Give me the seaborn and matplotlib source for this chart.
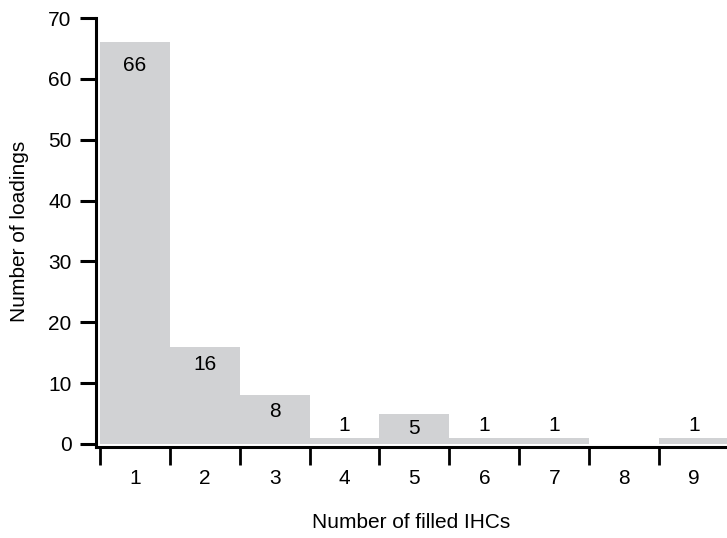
import matplotlib
matplotlib.use("Agg")
import matplotlib.pyplot as plt
import seaborn as sns
import pandas as pd
from matplotlib.ticker import FixedLocator

sns.set_style("white")
plt.rcParams['font.family'] = ['Liberation Sans', 'DejaVu Sans']
plt.rcParams['text.color'] = 'black'
plt.rcParams['xtick.color'] = 'black'
plt.rcParams['ytick.color'] = 'black'

filled_ihcs = [1, 2, 3, 4, 5, 6, 7, 8, 9]
loadings = [66, 16, 8, 1, 5, 1, 1, 0, 1]
bar_labels = ["66", "16", "8", "1", "5", "1", "1", "", "1"]
label_heights = [62.2, 13.1, 5.3, 3.1, 2.5, 3.1, 3.1, 0, 3.1]

df = pd.DataFrame({"ihc": filled_ihcs, "n": loadings})

fig = plt.figure(figsize=(7.27, 5.38), dpi=100)
ax = fig.add_axes([96/727, 1 - 447/538, 1 - 96/727, (447 - 18)/538])

sns.barplot(data=df, x="ihc", y="n", native_scale=True, width=1.0,
            color="#d1d2d4", saturation=1, linewidth=0, edgecolor="none", ax=ax)

for xv, yv, t in zip(filled_ihcs, label_heights, bar_labels):
    if t:
        ax.text(xv, yv, t, ha="center", va="center", fontsize=15, color="black")

ax.set_xlim(0.443, 9.473)
ax.set_ylim(-0.5, 70)
ax.set_yticks(range(0, 71, 10))

ax.xaxis.set_major_locator(FixedLocator([x - 0.5 for x in filled_ihcs]))
ax.xaxis.set_minor_locator(FixedLocator(filled_ihcs))
ax.set_xticklabels([], minor=False)
ax.set_xticklabels([str(v) for v in filled_ihcs], minor=True)
ax.tick_params(axis="x", which="major", direction="out", length=13, width=2,
               bottom=True, color="black")
ax.tick_params(axis="x", which="minor", length=0, pad=16, labelsize=15)
ax.tick_params(axis="y", direction="out", length=11.5, width=2.2, left=True,
               pad=6, labelsize=15, color="black")

for side in ["top", "right"]:
    ax.spines[side].set_visible(False)
for side in ["left", "bottom"]:
    ax.spines[side].set_linewidth(2.2)
    ax.spines[side].set_color("black")

ax.set_xlabel("")
ax.set_ylabel("")
fig.text(411/727, 1 - 522/538, "Number of filled IHCs", ha="center", va="center", fontsize=15)
fig.text(20/727, 1 - 231/538, "Number of loadings", ha="center", va="center",
         rotation=90, fontsize=15)

fig.savefig("out.png", dpi=100)
